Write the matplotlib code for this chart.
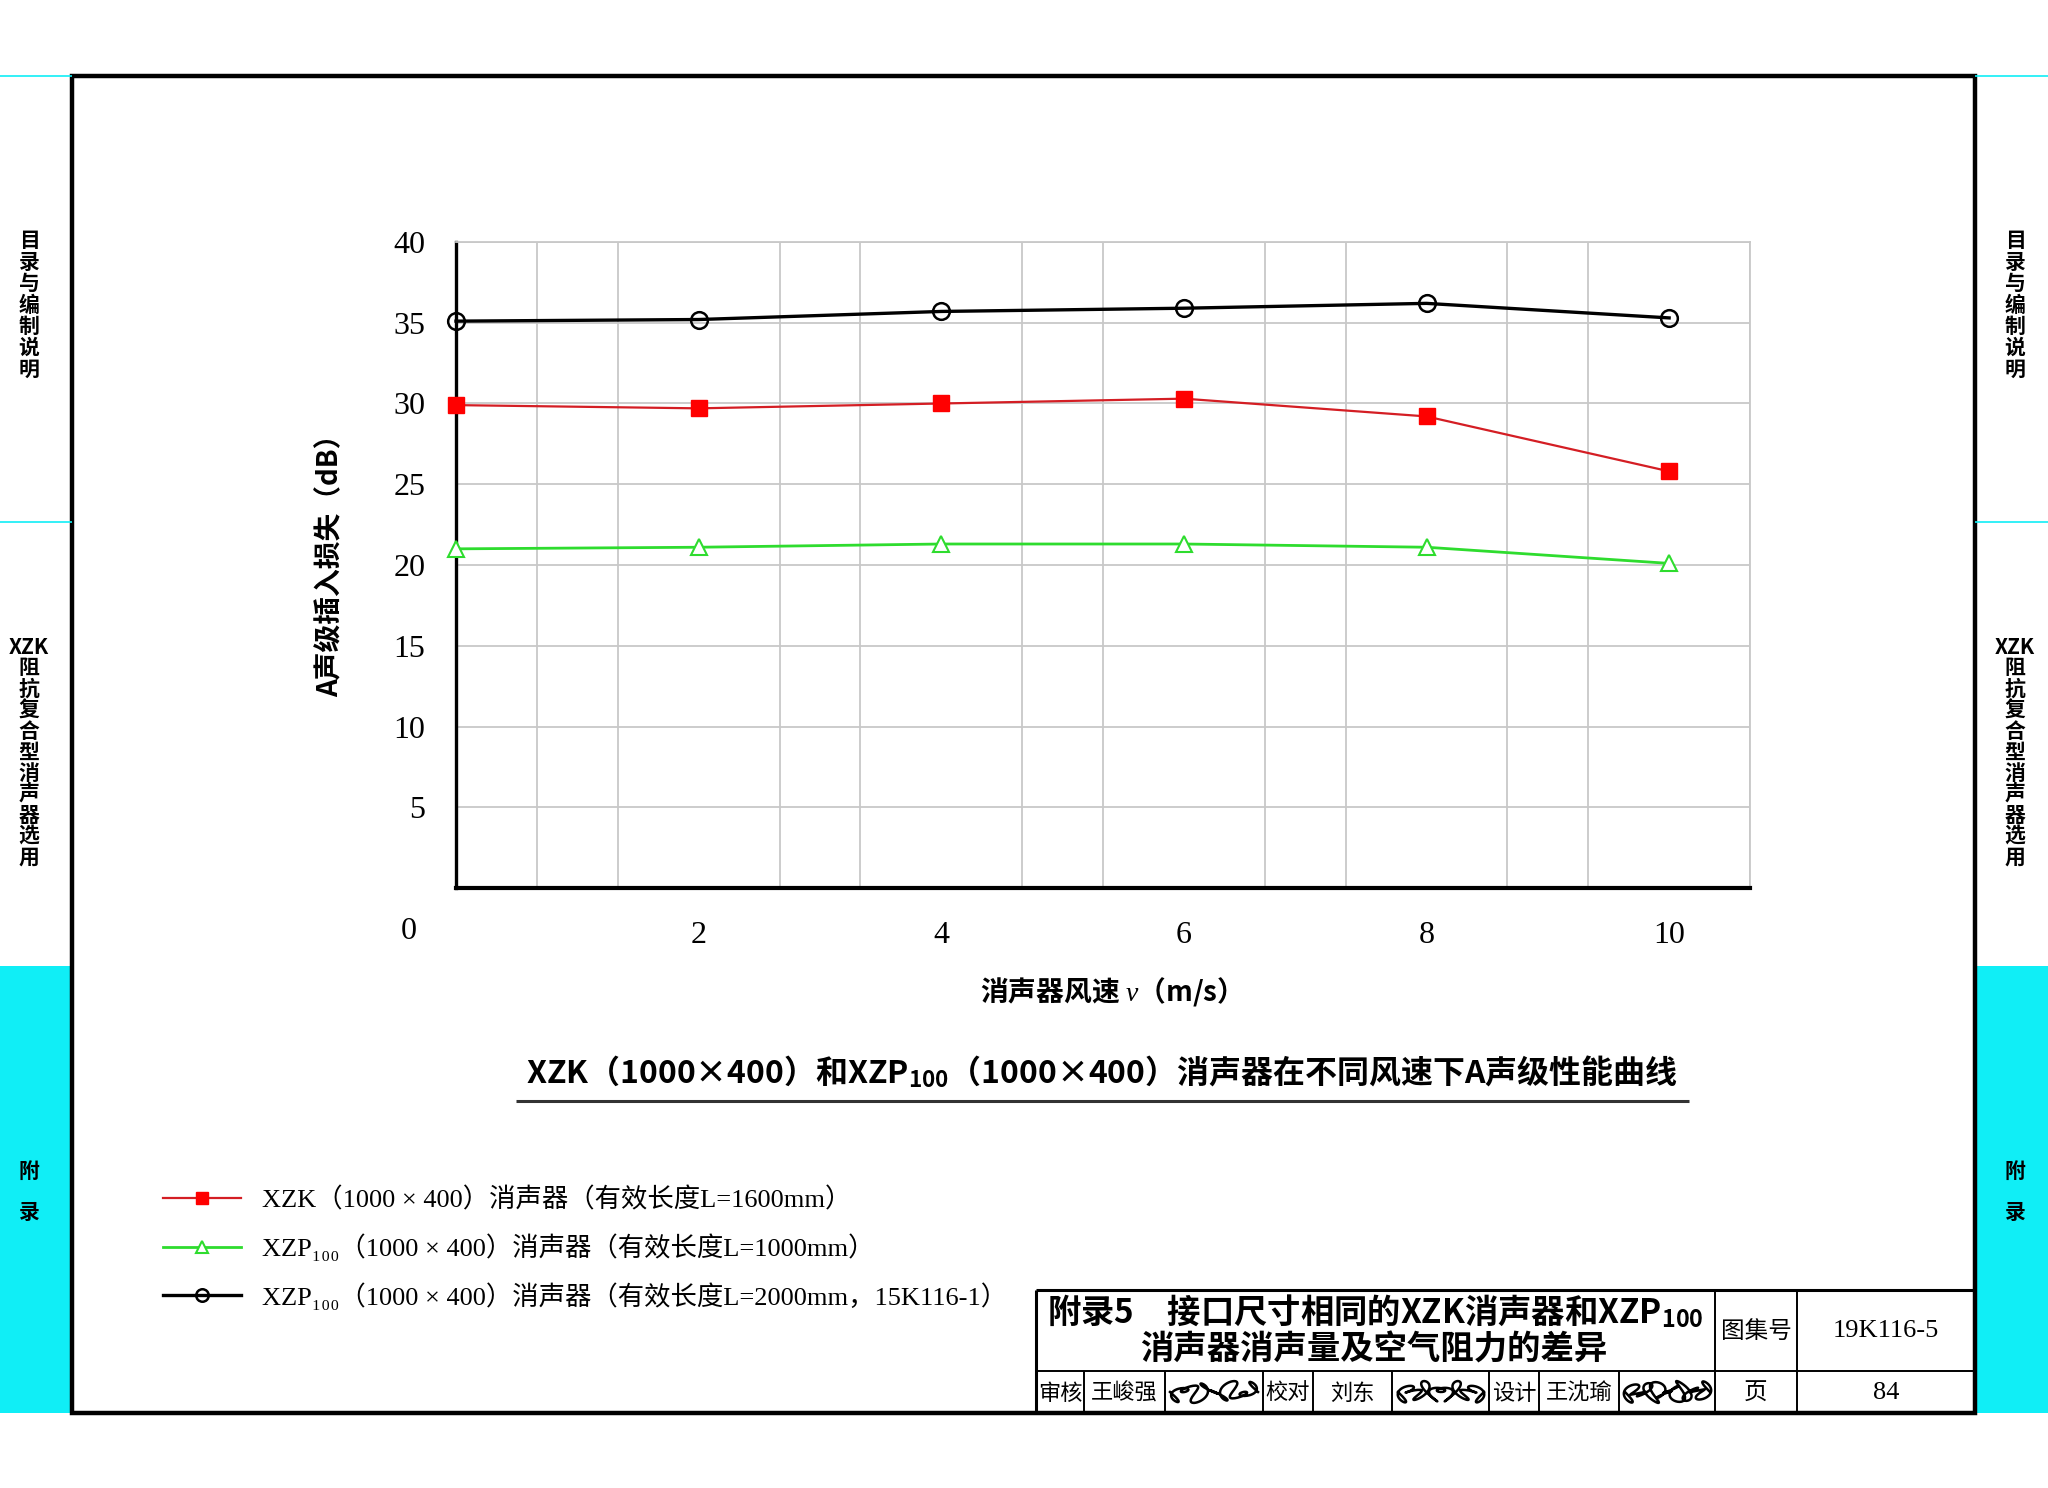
import numpy as np
import matplotlib
matplotlib.use('Agg')
import matplotlib.pyplot as plt
from matplotlib.lines import Line2D
from matplotlib.patches import Rectangle

plt.rcParams['font.family'] = ['Noto Sans CJK SC', 'DejaVu Sans']
plt.rcParams['mathtext.fontset'] = 'custom'
plt.rcParams['mathtext.rm'] = 'Liberation Serif'
plt.rcParams['mathtext.it'] = 'Liberation Serif:italic'
plt.rcParams['mathtext.bf'] = 'Noto Sans CJK SC:bold'
plt.rcParams['axes.unicode_minus'] = False

# ---------------- data ----------------
velocity = [0, 2, 4, 6, 8, 10]
xzk_1600 = [29.9, 29.7, 30.0, 30.3, 29.2, 25.8]
xzp_1000 = [21.0, 21.1, 21.3, 21.3, 21.1, 20.1]
xzp_2000 = [35.1, 35.2, 35.7, 35.9, 36.2, 35.3]
x_ticks = [2, 4, 6, 8, 10]
y_ticks = [5, 10, 15, 20, 25, 30, 35, 40]
legend_labels = [
    "XZK（1000 × 400）消声器（有效长度L=1600mm）",
    "XZP₁₀₀（1000 × 400）消声器（有效长度L=1000mm）",
    "XZP₁₀₀（1000 × 400）消声器（有效长度L=2000mm，15K116-1）",
]
y_label = "A声级插入损失（dB）"
x_label = "消声器风速 $v$（m/s）"
chart_title = "XZK（1000×400）和XZP$_{\\mathbf{100}}$（1000×400）消声器在不同风速下A声级性能曲线"
side_tabs = ["目录与编制说明", "XZK\n" + "\n".join("阻抗复合型消声器选用"), "附\n\n录"]

W, H = 2048, 1488
fig = plt.figure(figsize=(W / 100, H / 100), dpi=100)


def fx(px):
    return px / W


def fy(py):
    return 1 - py / H


def fline(x0, y0, x1, y1, lw=1.5, color='black'):
    fig.add_artist(Line2D([fx(x0), fx(x1)], [fy(y0), fy(y1)], lw=lw, color=color,
                          transform=fig.transFigure, solid_capstyle='butt'))


CYAN = '#10EEF6'

# ---------------- side tabs ----------------
for (xa, xb) in [(0, 72), (1975, 2048)]:
    fig.add_artist(Rectangle((fx(xa), fy(1413)), fx(xb) - fx(xa), fy(966) - fy(1413),
                             transform=fig.transFigure, facecolor=CYAN, edgecolor='none'))
    fline(xa, 76, xb, 76, lw=1.2, color=CYAN)
    fline(xa, 522, xb, 522, lw=1.2, color=CYAN)
for xc in [29, 2015]:
    fig.text(fx(xc), fy(305), "\n".join(side_tabs[0]), ha='center', va='center',
             fontsize=15, fontweight='bold', linespacing=1.02)
    fig.text(fx(xc), fy(752), side_tabs[1], ha='center', va='center',
             fontsize=15, fontweight='bold', linespacing=1.0)
    fig.text(fx(xc), fy(1192), side_tabs[2], ha='center', va='center',
             fontsize=15, fontweight='bold', linespacing=0.95)

# outer frame
fig.add_artist(Rectangle((fx(72), fy(1413)), fx(1975) - fx(72), fy(76) - fy(1413),
                         transform=fig.transFigure, facecolor='none', edgecolor='black', lw=3.2))

# ---------------- chart ----------------
ax = fig.add_axes([fx(456), fy(888), fx(1750) - fx(456), fy(242) - fy(888)])
ax.set_xlim(0, 32 / 3)
ax.set_ylim(0, 40)
ax.set_xticks(x_ticks)
ax.set_xticks(np.arange(0, 32 / 3 + 0.01, 2 / 3), minor=True)
ax.set_yticks(y_ticks)
ax.grid(True, which='minor', axis='x', color='#C8C8C8', lw=1.3)
ax.grid(True, which='major', axis='y', color='#C8C8C8', lw=1.3)
ax.set_axisbelow(True)
ax.tick_params(which='both', length=0)
ax.tick_params(axis='y', pad=22)
ax.tick_params(axis='x', pad=24)
for lab in ax.get_xticklabels() + ax.get_yticklabels():
    lab.set_fontfamily('Liberation Serif')
    lab.set_fontsize(23)
ax.spines['left'].set_color('black')
ax.spines['left'].set_linewidth(2.4)
ax.spines['bottom'].set_color('black')
ax.spines['bottom'].set_linewidth(3.0)
for s in ['top', 'right']:
    ax.spines[s].set_color('#C8C8C8')
    ax.spines[s].set_linewidth(1.3)

l1, = ax.plot(velocity, xzk_1600, color='#D41E24', lw=1.6, marker='s', markersize=11,
              markerfacecolor='#FF0000', markeredgecolor='#FF0000', clip_on=False, zorder=4)
l2, = ax.plot(velocity, xzp_1000, color='#2EDC2E', lw=2.0, marker='^', markersize=11,
              markerfacecolor='white', markeredgecolor='#2EDC2E', markeredgewidth=1.5,
              clip_on=False, zorder=4)
l3, = ax.plot(velocity, xzp_2000, color='black', lw=2.4, marker='o', markersize=12,
              markerfacecolor='none', markeredgecolor='black', markeredgewidth=1.8,
              clip_on=False, zorder=4)

fig.text(fx(409), fy(931), "0", ha='center', va='center', fontsize=23, family='Liberation Serif')
fig.text(fx(330), fy(559), y_label, rotation=90, ha='center', va='center',
         fontsize=20, fontweight='bold')
fig.text(fx(1104), fy(991), x_label, ha='center', va='center', fontsize=20, fontweight='bold')
fig.text(fx(1102), fy(1072), chart_title, ha='center', va='center', fontsize=23, fontweight='bold')
fline(516, 1101, 1689, 1101, lw=2.2, color='#333333')

leg = fig.legend([l1, l2, l3], legend_labels, loc='upper left',
                 bbox_to_anchor=(fx(163), fy(1187)), frameon=False, borderpad=0,
                 borderaxespad=0, handlelength=2.95, handletextpad=0.8, labelspacing=0.8,
                 prop={'family': ['Liberation Serif', 'Noto Sans CJK SC', 'DejaVu Sans'],
                       'size': 19})
for h in leg.legend_handles:
    h.set_markersize(9)

# ---------------- title block ----------------
TB_L, TB_R, TB_T, TB_M, TB_B = 1036, 1975, 1290, 1371, 1413
fline(TB_L, TB_T, TB_R, TB_T, lw=2.2)
fline(TB_L, TB_T, TB_L, TB_B, lw=2.2)
fline(TB_L, TB_M, TB_R, TB_M, lw=1.4)
for xv in [1715, 1797]:
    fline(xv, TB_T, xv, TB_B, lw=1.4)
for xv in [1084, 1165, 1263, 1313, 1392, 1489, 1539, 1619]:
    fline(xv, TB_M, xv, TB_B, lw=1.4)

fig.text(fx(1375), fy(1311), "附录5　接口尺寸相同的XZK消声器和XZP$_{\\mathbf{100}}$",
         ha='center', va='center', fontsize=24, fontweight='bold')
fig.text(fx(1374), fy(1350), "消声器消声量及空气阻力的差异", ha='center', va='center',
         fontsize=24, fontweight='bold')
fig.text(fx(1756), fy(1331), "图集号", ha='center', va='center', fontsize=17)
fig.text(fx(1886), fy(1331), "19K116-5", ha='center', va='center', fontsize=19,
         family='Liberation Serif')
fig.text(fx(1756), fy(1393), "页", ha='center', va='center', fontsize=17)
fig.text(fx(1886), fy(1393), "84", ha='center', va='center', fontsize=19,
         family='Liberation Serif')
for xc, txt in [(1060, "审核"), (1124, "王峻强"), (1288, "校对"), (1352, "刘东"),
                (1514, "设计"), (1579, "王沈瑜")]:
    fig.text(fx(xc), fy(1393), txt, ha='center', va='center', fontsize=16)

# handwritten signatures (decorative scribbles)
t = np.linspace(0, 1, 300)
for (xa, xb, k) in [(1170, 1258, 0), (1398, 1484, 1), (1625, 1710, 2)]:
    sx = xa + (xb - xa) * t + 6 * np.sin(t * (18 + 4 * k) * np.pi)
    sy = 1392 + 11 * np.sin(t * (11 + 3 * k) * np.pi) * np.cos(t * 3 * np.pi)
    fig.add_artist(Line2D(sx / W, 1 - sy / H, lw=1.8, color='black', transform=fig.transFigure))

fig.savefig('out.png', dpi=100)
